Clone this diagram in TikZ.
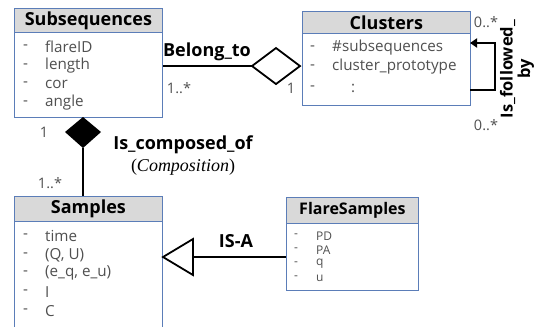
\documentclass[tikz,border=0pt]{standalone}
\usepackage{fontspec}
\setmainfont{Open Sans}
\newfontfamily\serifit{Liberation Serif}
\usetikzlibrary{arrows.meta}
\definecolor{boxline}{HTML}{5B7DB8}
\definecolor{hdrfill}{HTML}{D9D9D9}
\definecolor{itemgray}{HTML}{505050}
\tikzset{
  hdr/.style={draw=boxline, fill=hdrfill, line width=0.8pt, anchor=north west, inner sep=0pt, font=\fontsize{18}{20}\selectfont\bfseries},
  bodybox/.style={draw=boxline, fill=white, line width=0.8pt, anchor=north west, inner sep=0pt},
  item/.style={anchor=west, inner sep=0pt, text=itemgray, font=\fontsize{15.2}{17}\selectfont},
  smallitem/.style={anchor=west, inner sep=0pt, text=itemgray, font=\fontsize{12}{13}\selectfont},
  mult/.style={inner sep=0pt, text=itemgray, font=\fontsize{14.5}{16}\selectfont},
  rel/.style={inner sep=0pt, font=\fontsize{18}{20}\selectfont\bfseries},
  conn/.style={line width=2.2pt, black},
  shapeline/.style={line width=1.8pt, black, line join=miter}
}
\begin{document}
\begin{tikzpicture}[x=1pt,y=-1pt]
\useasboundingbox (0,0) rectangle (539,327);
% Subsequences
\node[bodybox, minimum width=148pt, minimum height=85pt] (subb) at (14,32) {};
\node[hdr, minimum width=148pt, minimum height=24pt] (subh) at (14,8) {Subsequences};
\node[item] (s1d) at (23,47) {-}; \node[item] (s1) at (45,47) {flareID};
\node[item] (s2d) at (23,66) {-}; \node[item] (s2) at (45,66) {length};
\node[item] (s3d) at (23,84) {-}; \node[item] (s3) at (45,84) {cor};
\node[item] (s4d) at (23,103) {-}; \node[item] (s4) at (45,103) {angle};
% Clusters
\node[bodybox, minimum width=168pt, minimum height=72pt] (clb) at (302,33) {};
\node[hdr, minimum width=168pt, minimum height=22pt] (clh) at (302,11) {Clusters};
\node[item] (c1d) at (310,48) {-}; \node[item] (c1) at (332,48) {\#subsequences};
\node[item] (c2d) at (310,67) {-}; \node[item] (c2) at (332,67) {cluster\_prototype};
\node[item] (c3d) at (310,88) {-}; \node[item] (c3) at (351,88) {:};
% Samples
\node[bodybox, minimum width=148pt, minimum height=115pt] (smb) at (14,221) {};
\node[hdr, minimum width=148pt, minimum height=25pt] (smh) at (14,196) {Samples};
\node[item] (m1d) at (23,236) {-}; \node[item] (m1) at (45,236) {time};
\node[item] (m2d) at (23,255) {-}; \node[item] (m2) at (45,255) {(Q, U)};
\node[item] (m3d) at (23,273) {-}; \node[item] (m3) at (45,273) {(e\_q, e\_u)};
\node[item] (m4d) at (23,292) {-}; \node[item] (m4) at (45,292) {I};
\node[item] (m5d) at (23,311) {-}; \node[item] (m5) at (45,311) {C};
% FlareSamples
\node[bodybox, minimum width=132pt, minimum height=67pt] (flb) at (286,223) {};
\node[hdr, minimum width=132pt, minimum height=26pt, font=\fontsize{16}{18}\selectfont\bfseries] (flh) at (286,197) {FlareSamples};
\node[smallitem] (f1d) at (294,236) {-}; \node[smallitem] (f1) at (316,236) {PD};
\node[smallitem] (f2d) at (294,250) {-}; \node[smallitem] (f2) at (316,250) {PA};
\node[smallitem] (f3d) at (294,264) {-}; \node[smallitem] (f3) at (316,264) {q};
\node[smallitem] (f4d) at (294,278) {-}; \node[smallitem] (f4) at (316,278) {u};
% Belong_to aggregation
\coordinate (aggL) at (252,66);
\coordinate (aggR) at (300,66);
\draw[shapeline] (aggL) -- (276,48) -- (aggR) -- (276,84) -- cycle;
\draw[conn] (subb.east |- aggL) -- (aggL);
\node[rel] (lbelong) at (207,52) {Belong\_to};
\node[mult] (m1a) at (179,88) {1..*};
\node[mult] (m1b) at (291,88) {1};
% Self loop
\coordinate (loopA) at (470,90);
\coordinate (loopB) at (470,43);
\draw[conn, -{Triangle[length=7pt,width=9pt]}] (loopA) -- (495,90) -- (495,43) -- (loopB);
\node[mult] (m0a) at (486,22) {0..*};
\node[mult] (m0b) at (486,125) {0..*};
\node[rel, rotate=90, align=center, font=\fontsize{16.5}{17.5}\selectfont\bfseries] (lfollow) at (517,69) {Is\_followed\_\\by};
% Composition
\coordinate (compT) at (83,117);
\coordinate (compB) at (83,148);
\fill[black] (compT) -- (101,132) -- (compB) -- (65,132) -- cycle;
\draw[conn] (compB) -- (smh.north -| compB);
\node[mult] (mc1) at (44,132) {1};
\node[mult] (mc2) at (50,183) {1..*};
\node[rel] (lcomp) at (183,145) {Is\_composed\_of};
\node[inner sep=0pt, font=\fontsize{18}{20}\serifit] (lcomp2) at (183,167) {(\textit{Composition})};
% IS-A
\coordinate (isaApex) at (163,257);
\coordinate (isaBase) at (193,257);
\draw[shapeline] (isaApex) -- (193,239) -- (193,275) -- cycle;
\draw[conn] (isaBase) -- (flb.west |- isaBase);
\node[rel] (lisa) at (236,241) {IS-A};
\end{tikzpicture}
\end{document}
